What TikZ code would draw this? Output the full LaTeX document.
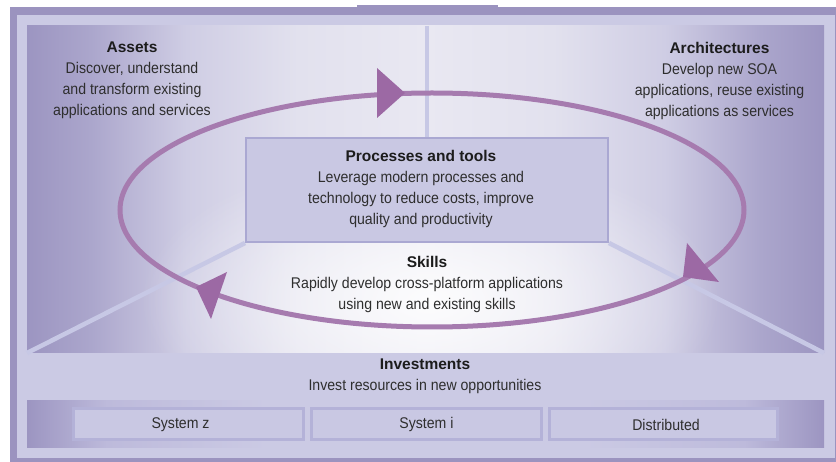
\documentclass[tikz,border=0pt]{standalone}
\usepackage{fontspec}
\setmainfont{Liberation Sans}[FakeStretch=0.91]
\newfontfamily\hfont{Liberation Sans}[FakeStretch=1.0]
\usetikzlibrary{fadings,shapes.geometric}
\definecolor{darkc}{HTML}{9B93BF}
\definecolor{lightc}{HTML}{CBCAE4}
\definecolor{edgec}{HTML}{9C95C1}
\definecolor{midaa}{HTML}{ABA6CC}
\definecolor{midbb}{HTML}{CFCDE4}
\definecolor{midcc}{HTML}{E2E1EE}
\definecolor{centc}{HTML}{E9E8F2}
\definecolor{sysmid}{HTML}{BDBADB}
\definecolor{boxfill}{HTML}{C9C8E3}
\definecolor{boxline}{HTML}{AAA8D2}
\definecolor{sysline}{HTML}{B4B2D8}
\definecolor{divc}{HTML}{C7C8E5}
\definecolor{loopc}{HTML}{A67BAF}
\definecolor{tipc}{HTML}{9C69A4}
\definecolor{textc}{HTML}{2E2E2E}
\definecolor{headc}{HTML}{1C1C1C}
\pgfdeclarehorizontalshading{bgshade}{100bp}{color(0bp)=(edgec); color(25bp)=(edgec); color(29bp)=(midaa); color(35bp)=(midbb); color(42bp)=(midcc); color(50bp)=(centc); color(58bp)=(midcc); color(65bp)=(midbb); color(71bp)=(midaa); color(75bp)=(edgec); color(100bp)=(edgec)}
\pgfdeclarehorizontalshading{sysshade}{100bp}{color(0bp)=(edgec); color(25bp)=(edgec); color(30bp)=(sysmid); color(40bp)=(lightc); color(60bp)=(lightc); color(70bp)=(sysmid); color(75bp)=(edgec); color(100bp)=(edgec)}
\tikzfading[name=glow, inner color=transparent!10, outer color=transparent!100]
\newcommand{\hd}[1]{{\hfont\bfseries\color{headc}#1}}
\begin{document}
\begin{tikzpicture}[x=1pt,y=-1pt,
  txt/.style={align=center, inner sep=0pt, anchor=north, text=textc,
              font=\fontsize{15.5}{21}\selectfont},
  procbox/.style={draw=boxline, line width=2pt, fill=boxfill, inner sep=0pt,
                  minimum width=362pt, minimum height=104pt},
  sysbox/.style={draw=sysline, line width=3pt, fill=boxfill, inner sep=0pt,
                 minimum height=31pt, text=textc, font=\fontsize{15.5}{21}\selectfont},
  divline/.style={draw=divc, line width=4.5pt},
  loopline/.style={draw=loopc, line width=5pt},
  tiphead/.style={fill=tipc}]
\useasboundingbox (0,0) rectangle (836,462);
\fill[white] (0,0) rectangle (836,462);
% frame
\fill[darkc] (10,7) rectangle (840,466);
\fill[darkc] (357,5.3) rectangle (498,8);
\fill[lightc] (17,15) rectangle (835,458);
% gradient region
\shade[shading=bgshade] (27,26) rectangle (824,353);
\begin{scope}
  \clip (27,26) rectangle (824,353);
  \fill[white, path fading=glow] (430,300) ellipse (290 and 150);
\end{scope}
% systems band
\shade[shading=sysshade] (27,401) rectangle (824,448);
% corner coordinates
\coordinate (rt) at (427,26);
\coordinate (bl) at (27,353);
\coordinate (br) at (824,353);
% process box
\node[procbox] (proc) at (427,190) {};
\draw[divline] (rt) -- (proc.north -| rt);
\draw[divline] (proc.south west) -- (bl);
\draw[divline] (proc.south east) -- (br);
\node[procbox] at (proc) {};
% cycle
\node[ellipse, loopline, minimum width=624pt, minimum height=234pt, inner sep=0pt] (cyc) at (432,210) {};
\fill[tiphead] (377,68) -- (405,93) -- (377,118) -- cycle;
\fill[tiphead] (227,272) -- (211,319) -- (196,287) -- cycle;
\fill[tiphead] (687,243) -- (719,282) -- (683,277) -- cycle;
% texts
\node[txt] (assets) at (132,41.9) {\hd{Assets}\\Discover, understand\\and transform existing\\applications and services};
\node[txt] (arch) at (719.5,41.9) {\hd{Architectures}\\Develop new SOA\\applications, reuse existing\\applications as services};
\node[txt] (proctext) at (421,149.6) {\hd{Processes and tools}\\Leverage modern processes and\\technology to reduce costs, improve\\quality and productivity};
\node[txt] (skills) at (427,255.7) {\hd{Skills}\\Rapidly develop cross-platform applications\\using new and existing skills};
\node[txt] (invest) at (425,358.9) {\hd{Investments}\\Invest resources in new opportunities};
% systems
\node[sysbox, minimum width=230pt] (sysz) at (188.5,424.5) {System z\hspace*{16pt}};
\node[sysbox, minimum width=230pt] (sysi) at (426.5,424.5) {System i};
\node[sysbox, minimum width=228pt] (dist) at (663.5,424.5) {\hspace*{5pt}Distributed};
\end{tikzpicture}
\end{document}
